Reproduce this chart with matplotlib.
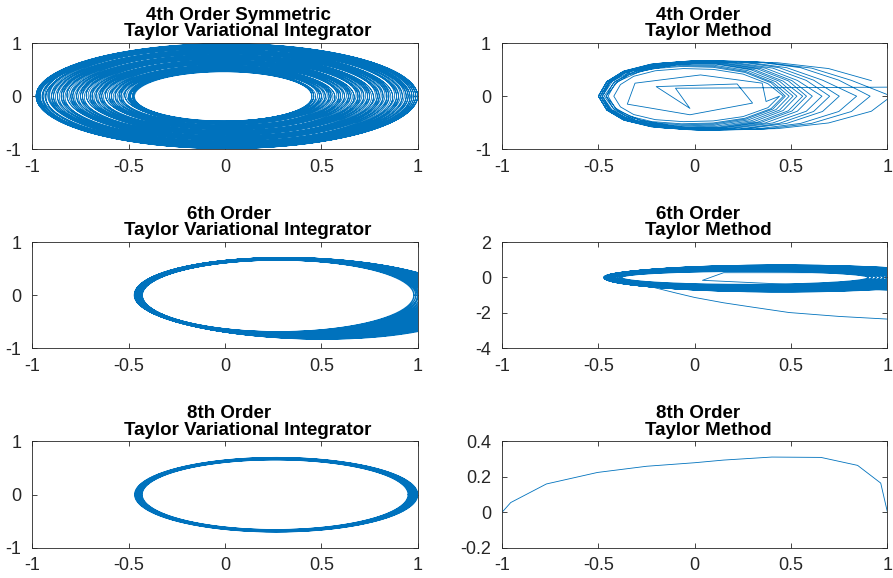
import numpy as np
import matplotlib.pyplot as plt

plt.rcParams['font.family'] = ['Liberation Sans', 'DejaVu Sans']
plt.rcParams['axes.unicode_minus'] = False

# ---- 4th order symmetric VI: orbit radius at the start of each revolution
vi4_r = [0.45, 0.55, 0.65, 0.75, 0.85, 0.95, 1.00, 0.92, 0.82, 0.72, 0.62, 0.52, 0.46, 0.50, 0.60,
         0.70, 0.80, 0.90, 0.99, 0.97, 0.87, 0.77, 0.67, 0.57, 0.47, 0.48, 0.58, 0.68, 0.78, 0.88,
         0.98, 0.98, 0.89, 0.79, 0.69, 0.59, 0.49, 0.46, 0.53, 0.63, 0.73, 0.83, 0.93, 1.00, 0.95,
         0.85, 0.75, 0.65, 0.55, 0.45, 0.51, 0.61, 0.71, 0.81, 0.91, 0.99, 0.96, 0.86, 0.76, 0.66,
         0.56, 0.46, 0.54, 0.64, 0.74, 0.84, 0.94, 1.00, 0.94, 0.84, 0.74, 0.64, 0.54, 0.45, 0.49,
         0.59, 0.69, 0.79, 0.89, 0.97, 0.99, 0.90, 0.80, 0.70, 0.60, 0.50, 0.46, 0.52, 0.62, 0.72,
         0.82, 0.92, 1.00, 0.96, 0.87, 0.77, 0.67, 0.57, 0.47]

# ---- 4th order Taylor method: first steps, then growing loops
m4_start_x = [1.00, 1.00, -0.10, -0.025, -0.20, 0.22, 0.30, -0.025, -0.35, -0.31, 0.03, 0.35, 0.37]
m4_start_y = [0.00, 0.17, 0.15, -0.23, 0.18, 0.23, -0.13, -0.35, -0.15, 0.245, 0.40, 0.245, -0.10]
m4_left = [-0.42, -0.45, -0.46, -0.48, -0.48, -0.49, -0.50, -0.50, -0.50, -0.50, -0.49, -0.49, -0.48, -0.47, -0.46]
m4_right = [0.44, 0.46, 0.47, 0.49, 0.51, 0.53, 0.56, 0.58, 0.61, 0.66, 0.70, 0.75, 0.84, 0.91, 1.02]
m4_top = [0.52, 0.56, 0.58, 0.60, 0.62, 0.63, 0.64, 0.65, 0.66, 0.66, 0.67, 0.67, 0.67, 0.66, 0.65]
m4_bottom = [-0.48, -0.52, -0.54, -0.56, -0.58, -0.60, -0.61, -0.62, -0.63, -0.63, -0.64, -0.64, -0.64, -0.64, -0.63]
# coarse step polygon (u: 0 left .. 1 right, v: -1 bottom .. 1 top)
step_u = [1.00, 0.93, 0.78, 0.60, 0.42, 0.25, 0.12, 0.04, 0.00, 0.04, 0.12, 0.25, 0.42, 0.60, 0.78, 0.93]
step_v = [0.00, -0.45, -0.80, -0.97, -1.00, -0.92, -0.72, -0.42, 0.00, 0.42, 0.72, 0.92, 1.00, 0.97, 0.80, 0.45]

# ---- 6th order VI: precessing band
vi6_left = [-0.430, -0.431, -0.432, -0.433, -0.434, -0.436, -0.437, -0.438, -0.439, -0.440,
            -0.442, -0.443, -0.444, -0.445, -0.446, -0.448, -0.449, -0.450, -0.451, -0.452,
            -0.454, -0.455, -0.456, -0.457, -0.458, -0.460, -0.461, -0.462, -0.463, -0.464,
            -0.466, -0.467, -0.468, -0.469, -0.470, -0.468, -0.465, -0.462, -0.458, -0.455]
vi6_right = [0.98, 0.99, 1.00, 1.00, 1.01, 1.02, 1.03, 1.03, 1.04, 1.05, 1.06, 1.07, 1.07, 1.08,
             1.09, 1.10, 1.11, 1.11, 1.12, 1.13, 1.14, 1.15, 1.15, 1.16, 1.17, 1.18, 1.19, 1.19,
             1.20, 1.21, 1.22, 1.22, 1.23, 1.24, 1.24, 1.25, 1.25, 1.26, 1.26, 1.27]
vi6_top = [0.664, 0.665, 0.666, 0.667, 0.668, 0.669, 0.670, 0.671, 0.672, 0.673, 0.674, 0.675, 0.676,
           0.677, 0.678, 0.679, 0.680, 0.681, 0.682, 0.683, 0.684, 0.685, 0.686, 0.687, 0.688, 0.689,
           0.690, 0.691, 0.692, 0.693, 0.694, 0.695, 0.696, 0.697, 0.698, 0.699, 0.700, 0.700, 0.700, 0.700]
vi6_bottom = [-0.690, -0.693, -0.697, -0.700, -0.703, -0.707, -0.710, -0.713, -0.717, -0.720,
              -0.723, -0.727, -0.730, -0.733, -0.737, -0.740, -0.743, -0.747, -0.750, -0.753,
              -0.757, -0.760, -0.763, -0.767, -0.770, -0.773, -0.777, -0.780, -0.783, -0.787,
              -0.790, -0.793, -0.797, -0.800, -0.803, -0.806, -0.810, -0.813, -0.816, -0.820]
vi6_tilt = [0.00, 0.00, -0.01, -0.01, -0.02, -0.02, -0.03, -0.03, -0.04, -0.04, -0.05, -0.05, -0.06,
            -0.06, -0.07, -0.07, -0.08, -0.08, -0.09, -0.09, -0.10, -0.10, -0.11, -0.11, -0.12, -0.12,
            -0.13, -0.13, -0.14, -0.14, -0.15, -0.15, -0.15, -0.16, -0.16, -0.16, -0.17, -0.17, -0.17, -0.18]

# ---- 6th order Taylor method: band, first steps and escape branch
m6_left = [-0.38, -0.39, -0.40, -0.41, -0.42, -0.42, -0.43, -0.43, -0.44, -0.44, -0.45, -0.45, -0.45, -0.46,
           -0.46, -0.46, -0.47, -0.47, -0.47, -0.47, -0.46, -0.46, -0.45, -0.45, -0.44, -0.43]
m6_right = [0.90, 0.92, 0.94, 0.96, 0.98, 1.00, 1.02, 1.04, 1.06, 1.08, 1.10, 1.12, 1.14, 1.16,
            1.18, 1.20, 1.22, 1.24, 1.26, 1.28, 1.30, 1.31, 1.32, 1.33, 1.34, 1.35]
m6_top = [0.35, 0.37, 0.39, 0.41, 0.43, 0.45, 0.47, 0.49, 0.51, 0.52, 0.54, 0.55, 0.57, 0.58,
          0.59, 0.60, 0.61, 0.62, 0.63, 0.64, 0.65, 0.66, 0.67, 0.68, 0.69, 0.69]
m6_bottom = [-0.40, -0.43, -0.46, -0.48, -0.51, -0.53, -0.55, -0.57, -0.59, -0.61, -0.63, -0.65, -0.66, -0.68,
             -0.69, -0.70, -0.72, -0.73, -0.74, -0.75, -0.76, -0.77, -0.78, -0.79, -0.80, -0.81]
m6_start_x = [0.75, 0.15, 0.04, 0.51, 1.05]
m6_start_y = [0.27, 0.27, -0.16, -0.40, -0.76]
m6_escape_x = [-0.42, -0.30, -0.20, -0.10, 0.00, 0.15, 0.29, 0.49, 0.75, 1.00, 1.10]
m6_escape_y = [-0.02, -0.30, -0.60, -0.87, -1.13, -1.43, -1.66, -1.98, -2.20, -2.35, -2.40]

# ---- 8th order VI: thin band
vi8_left = [-0.430, -0.433, -0.436, -0.439, -0.442, -0.445, -0.448, -0.451, -0.454, -0.457, -0.460, -0.463, -0.466, -0.469]
vi8_right = [0.950, 0.954, 0.958, 0.962, 0.966, 0.970, 0.974, 0.978, 0.982, 0.986, 0.990, 0.994, 0.997, 1.000]
vi8_top = [0.655, 0.658, 0.662, 0.665, 0.668, 0.672, 0.675, 0.678, 0.682, 0.685, 0.688, 0.692, 0.695, 0.698]
vi8_bottom = [-0.660, -0.663, -0.667, -0.670, -0.673, -0.677, -0.680, -0.683, -0.687, -0.690, -0.693, -0.697, -0.700, -0.703]

# ---- 8th order Taylor method
m8_x = [-1.0, -0.955, -0.77, -0.505, -0.25, 0.0, 0.15, 0.40, 0.655, 0.845, 0.965, 1.0]
m8_y = [0.0, 0.055, 0.16, 0.225, 0.26, 0.28, 0.295, 0.312, 0.31, 0.265, 0.165, 0.0]

blue = '#0072BD'
grey = '#262626'
theta = np.linspace(0, 2 * np.pi, 181)


def band(left, right, top, bottom, tilt=None):
    # one closed loop per entry, NaN between loops
    xs, ys = [], []
    n = min(len(left), len(right), len(top), len(bottom))
    for i in range(n):
        t = 0.0 if tilt is None else tilt[i]
        cx = (left[i] + right[i]) / 2
        a = (right[i] - left[i]) / 2
        h = np.where(np.sin(theta) > 0, top[i] - t / 2, t / 2 - bottom[i])
        xs += [cx + a * np.cos(theta), [np.nan]]
        ys += [h * np.sin(theta) + t * (1 + np.cos(theta)) / 2, [np.nan]]
    return np.concatenate(xs), np.concatenate(ys)


def spiral(radii):
    # radius changes smoothly over each revolution, from one entry to the next
    xs, ys = [], []
    for r0, r1 in zip(radii[:-1], radii[1:]):
        r = r0 + (r1 - r0) * theta / (2 * np.pi)
        xs.append(r[:-1] * np.cos(theta[:-1]))
        ys.append(r[:-1] * np.sin(theta[:-1]))
    return np.concatenate(xs), np.concatenate(ys)


def steps(left, right, top, bottom):
    xs, ys = [], []
    for i in range(len(left)):
        for u, v in zip(step_u, step_v):
            xs.append(left[i] + u * (right[i] - left[i]))
            ys.append(v * (top[i] if v > 0 else -bottom[i]))
    return xs, ys


fig = plt.figure(figsize=(8.93, 5.78), dpi=100)
lefts = [0.0362, 0.5622]
bottoms = [0.7417, 0.3974, 0.0524]
w, hgt = 0.4316, 0.1838

axes = [[fig.add_axes([lefts[c], bottoms[r], w, hgt]) for c in range(2)] for r in range(3)]

# panel 1
x1, y1 = spiral(vi4_r)
axes[0][0].plot(x1, y1, color=blue, lw=0.6)
# panel 2
sx, sy = steps(m4_left, m4_right, m4_top, m4_bottom)
axes[0][1].plot(m4_start_x + sx, m4_start_y + sy, color=blue, lw=0.6)
# panel 3
x3, y3 = band(vi6_left, vi6_right, vi6_top, vi6_bottom, vi6_tilt)
axes[1][0].plot(x3, y3, color=blue, lw=1.0)
# panel 4
x4, y4 = band(m6_left, m6_right, m6_top, m6_bottom)
axes[1][1].plot(m6_start_x, m6_start_y, color=blue, lw=0.6)
axes[1][1].plot(x4, y4, color=blue, lw=1.0)
axes[1][1].plot(m6_escape_x, m6_escape_y, color=blue, lw=0.6)
# panel 5
x5, y5 = band(vi8_left, vi8_right, vi8_top, vi8_bottom)
axes[2][0].plot(x5, y5, color=blue, lw=0.8)
# panel 6
axes[2][1].plot(m8_x, m8_y, color=blue, lw=0.6)

titles = [[('4th Order Symmetric', 'Taylor Variational Integrator'), ('4th Order', 'Taylor Method')],
          [('6th Order', 'Taylor Variational Integrator'), ('6th Order', 'Taylor Method')],
          [('8th Order', 'Taylor Variational Integrator'), ('8th Order', 'Taylor Method')]]
title_dx = [[(9.4, 16.5), (2.2, 10.0)], [(2.9, 16.5), (2.2, 10.0)], [(2.9, 16.5), (2.2, 10.0)]]
ylims = [[(-1, 1), (-1, 1)], [(-1, 1), (-4, 2)], [(-1, 1), (-0.2, 0.4)]]
yticks = [[[-1, 0, 1], [-1, 0, 1]], [[-1, 0, 1], [-4, -2, 0, 2]], [[-1, 0, 1], [-0.2, 0, 0.2, 0.4]]]
ylabels = [[['-1', '0', '1'], ['-1', '0', '1']], [['-1', '0', '1'], ['-4', '-2', '0', '2']],
           [['-1', '0', '1'], ['-0.2', '0', '0.2', '0.4']]]

for r in range(3):
    for c in range(2):
        ax = axes[r][c]
        ax.set_xlim(-1, 1)
        ax.set_ylim(*ylims[r][c])
        ax.set_xticks([-1, -0.5, 0, 0.5, 1])
        ax.set_xticklabels(['-1', '-0.5', '0', '0.5', '1'])
        ax.set_yticks(yticks[r][c])
        ax.set_yticklabels(ylabels[r][c])
        for s in ax.spines.values():
            s.set_color(grey)
            s.set_linewidth(0.6)
        ax.tick_params(direction='in', length=3.6, width=0.6, color=grey, labelcolor=grey,
                       labelsize=13, top=True, right=True)
        ax.tick_params(axis='x', pad=7)
        ax.tick_params(axis='y', pad=8)
        l1, l2 = titles[r][c]
        d1, d2 = title_dx[r][c]
        ax.annotate(l1, xy=(0.5, 1), xycoords='axes fraction', xytext=(d1, 16.6),
                    textcoords='offset points', ha='center', va='baseline',
                    fontsize=13.5, fontweight='bold')
        ax.annotate(l2, xy=(0.5, 1), xycoords='axes fraction', xytext=(d2, 4.8),
                    textcoords='offset points', ha='center', va='baseline',
                    fontsize=13.5, fontweight='bold')

fig.savefig('out.png', dpi=100)
